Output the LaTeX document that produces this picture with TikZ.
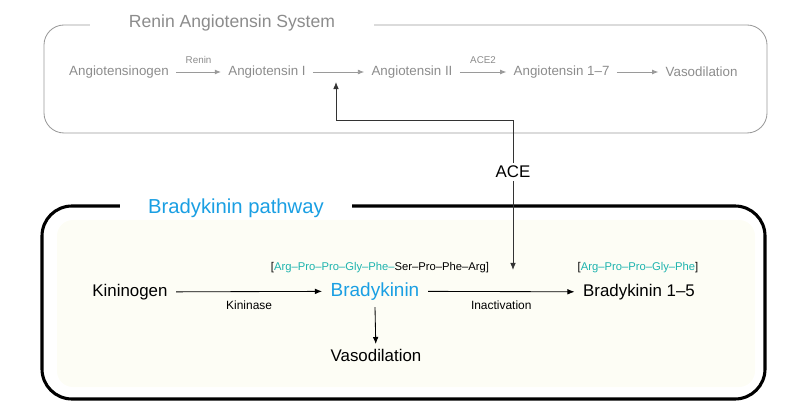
\documentclass[tikz,border=0pt]{standalone}
\usepackage{fontspec}
\setmainfont{Liberation Sans}
\usetikzlibrary{arrows.meta}
\definecolor{ragray}{HTML}{8C8C8C}
\definecolor{raline}{HTML}{9A9A9A}
\definecolor{bkblue}{HTML}{1A9FE3}
\definecolor{bkteal}{HTML}{1DB3AE}
\definecolor{bkcream}{HTML}{FDFDF5}
\newcommand{\tealtxt}[1]{\textcolor{bkteal}{#1}}
\tikzset{
  ratext/.style={text=ragray, font=\fontsize{9.5}{11}\selectfont, inner xsep=5pt},
  enzyme/.style={text=ragray, font=\fontsize{7}{8}\selectfont},
  raarrow/.style={draw=raline, line width=0.6pt, -{Latex[length=4.5pt,width=3.5pt]}},
  bktext/.style={font=\fontsize{12}{14}\selectfont, inner xsep=6pt},
  seqtext/.style={font=\fontsize{8}{9}\selectfont},
  smalltext/.style={font=\fontsize{8.5}{10}\selectfont},
  bkarrow/.style={line width=0.6pt, -{Latex[length=5pt,width=4pt]}}
}
\begin{document}
\begin{tikzpicture}
	\useasboundingbox (0,0) rectangle (20,10.3);
	% renin angiotensin system
	\draw[raline, line width=0.6pt, rounded corners=0.5cm] (1.1,9.675) rectangle (19.175,6.975);
	\node[fill=white, text=ragray, font=\fontsize{12.5}{14}\selectfont, minimum width=7.1cm, inner ysep=1pt] (ras) at (5.8,9.72) {Renin Angiotensin System};
	\node[ratext] (agen) at (2.975,8.5) {Angiotensinogen};
	\node[ratext] (ang1) at (6.675,8.5) {Angiotensin I};
	\node[ratext] (ang2) at (10.3,8.5) {Angiotensin II};
	\node[ratext] (ang17) at (14.04,8.5) {Angiotensin 1--7};
	\node[ratext] (vaso1) at (17.54,8.5) {Vasodilation};
	\draw[raarrow] (agen) -- node[enzyme, above=2pt] {Renin} (ang1);
	\draw[raarrow] (ang1) -- (ang2);
	\draw[raarrow] (ang2) -- node[enzyme, above=2pt] {ACE2} (ang17);
	\draw[raarrow] (ang17) -- (vaso1);
	% bradykinin pathway
	\fill[bkcream, rounded corners=0.4cm] (1.425,4.8) rectangle (18.875,0.625);
	\draw[line width=2.2pt, rounded corners=0.75cm] (1.05,5.15) rectangle (19.125,0.325);
	\node[fill=white, text=bkblue, font=\fontsize{14.4}{16}\selectfont, minimum width=5.8cm, inner ysep=1pt] (bkp) at (5.9,5.1) {Bradykinin pathway};
	\node[bktext] (kgen) at (3.25,3.0) {Kininogen};
	\node[bktext, text=bkblue, font=\fontsize{13.5}{15}\selectfont] (bk) at (9.375,3.02) {Bradykinin};
	\node[bktext] (bk15) at (15.975,3.0) {Bradykinin 1--5};
	\node[bktext] (vaso2) at (9.4,1.42) {Vasodilation};
	\node[seqtext] (seq1) at (9.5,3.62) {[\tealtxt{Arg--Pro--Pro--Gly--Phe--}Ser--Pro--Phe--Arg]};
	\node[seqtext] (seq2) at (15.95,3.62) {[\tealtxt{Arg--Pro--Pro--Gly--Phe}]};
	\draw[bkarrow] (kgen) -- node[smalltext, below=3pt] {Kininase} (bk);
	\draw[bkarrow] (bk) -- node[smalltext, below=3pt] {Inactivation} (bk15);
	\draw[bkarrow] (bk.south) ++(0,-0.05) -- (vaso2);
	% ace
	\node[font=\fontsize{12}{14}\selectfont, inner sep=2pt] (ace) at (12.825,6.0) {ACE};
	\coordinate (acetop) at (8.4,8.25);
	\coordinate (acebot) at (12.825,3.55);
	\draw[bkarrow, draw=black!80] (ace.north) |- (8.4,7.3) -- (acetop);
	\draw[bkarrow, draw=black!80] (ace.south) -- (acebot);
\end{tikzpicture}
\end{document}
